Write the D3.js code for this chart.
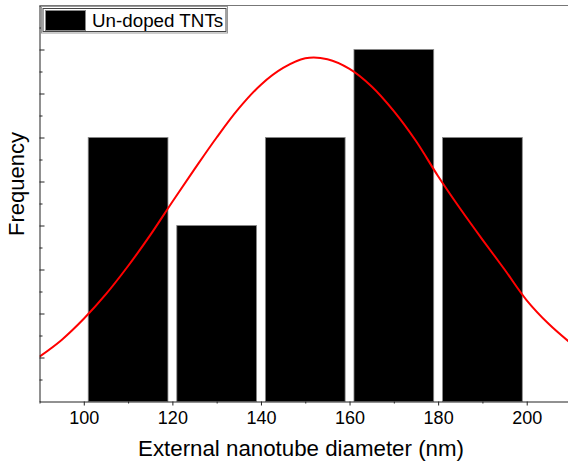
<!DOCTYPE html>
<html>
<head>
<meta charset="utf-8">
<script src="https://cdn.jsdelivr.net/npm/d3@7"></script>
<style>
  body { margin: 0; background: #fff; }
  svg { display: block; font-family: "Liberation Sans", Arial, sans-serif; }
</style>
</head>
<body>
<svg id="chart" width="568" height="464"></svg>
<script>
// histogram bins (nm) and counts
var binStart = [101, 121, 141, 161, 181];
var binEnd   = [119, 139, 159, 179, 199];
var counts   = [3, 2, 3, 4, 3];

// gaussian fit, values every 5 nm
var fitX = [90, 95, 100, 105, 110, 115, 120, 125, 130, 135, 140, 145, 150,
            155, 160, 165, 170, 175, 180, 185, 190, 195, 200, 205, 210];
var fitY = [0.51, 0.70, 0.94, 1.22, 1.54, 1.89, 2.27, 2.64, 3.00, 3.33, 3.60, 3.79, 3.90,
            3.89, 3.78, 3.58, 3.30, 2.96, 2.56, 2.19, 1.84, 1.50, 1.15, 0.88, 0.66];

var xTicks = [100, 120, 140, 160, 180, 200];
var xMinor = [90, 110, 130, 150, 170, 190, 210];
var legendLabel = "Un-doped TNTs";
var xTitle = "External nanotube diameter (nm)";
var yTitle = "Frequency";

var svg = d3.select("#chart");

var x = d3.scaleLinear().domain([90, 210]).range([39.5, 571]);
var y = d3.scaleLinear().domain([0, 4.5]).range([401.5, 5.5]);

svg.append("defs").append("clipPath")
    .attr("id", "plot")
  .append("rect")
    .attr("x", x(90)).attr("y", y(4.5))
    .attr("width", x(210) - x(90)).attr("height", y(0) - y(4.5));

// bars
svg.append("g").selectAll("rect")
    .data(counts)
  .enter().append("rect")
    .attr("x", function (d, i) { return x(binStart[i]); })
    .attr("width", function (d, i) { return x(binEnd[i]) - x(binStart[i]); })
    .attr("y", function (d) { return y(d); })
    .attr("height", function (d) { return y(0) - y(d); })
    .attr("fill", "#000")
    .attr("stroke", "#888")
    .attr("stroke-width", 0.8);

// fit curve
var line = d3.line()
    .x(function (d) { return x(d); })
    .y(function (d, i) { return y(fitY[i]); })
    .curve(d3.curveCatmullRom.alpha(0.5));

svg.append("path")
    .attr("d", line(fitX))
    .attr("clip-path", "url(#plot)")
    .attr("fill", "none")
    .attr("stroke", "#ff0000")
    .attr("stroke-width", 2);

// bottom axis
var xAxis = svg.append("g")
    .attr("transform", "translate(0," + y(0) + ")")
    .call(d3.axisBottom(x).tickValues(xTicks).tickSize(4).tickSizeOuter(0).tickPadding(6));
xAxis.selectAll("text").attr("font-size", 18).attr("fill", "#000").attr("font-family", null);

svg.append("g")
    .attr("transform", "translate(0," + y(0) + ")")
    .call(d3.axisBottom(x).tickValues(xMinor).tickSize(2).tickSizeOuter(0).tickFormat(""))
    .select(".domain").remove();

// left axis, ticks inward, no labels
svg.append("g")
    .attr("transform", "translate(" + x(90) + ",0)")
    .call(d3.axisRight(y).tickValues(d3.range(0.5, 4.6, 0.5)).tickSize(5).tickSizeOuter(0).tickFormat(""));

svg.append("g")
    .attr("transform", "translate(" + x(90) + ",0)")
    .call(d3.axisRight(y).tickValues(d3.range(0.25, 4.5, 0.5)).tickSize(3).tickSizeOuter(0).tickFormat(""))
    .select(".domain").remove();

svg.selectAll(".domain, .tick line").attr("stroke", "#222");

// top frame line
svg.append("line")
    .attr("x1", x(90)).attr("x2", x(210))
    .attr("y1", y(4.5)).attr("y2", y(4.5))
    .attr("stroke", "#777");

// titles
svg.append("text")
    .attr("x", 301).attr("y", 456)
    .attr("text-anchor", "middle")
    .attr("font-size", 22.3)
    .text(xTitle);

svg.append("text")
    .attr("transform", "translate(24,184) rotate(-90)")
    .attr("text-anchor", "middle")
    .attr("font-size", 22)
    .text(yTitle);

// legend
var legend = svg.append("g");
legend.append("rect")
    .attr("x", 41.5).attr("y", 6.5).attr("width", 186).attr("height", 26.5)
    .attr("fill", "#fff").attr("stroke", "#999");
legend.append("rect")
    .attr("x", 43).attr("y", 8.5).attr("width", 183).attr("height", 23)
    .attr("fill", "none").attr("stroke", "#444");
legend.append("rect")
    .attr("x", 45.5).attr("y", 10.5).attr("width", 40).attr("height", 20)
    .attr("fill", "#000").attr("stroke", "#888");
legend.append("text")
    .attr("x", 92).attr("y", 26.5)
    .attr("font-size", 18.8)
    .text(legendLabel);
</script>
</body>
</html>
